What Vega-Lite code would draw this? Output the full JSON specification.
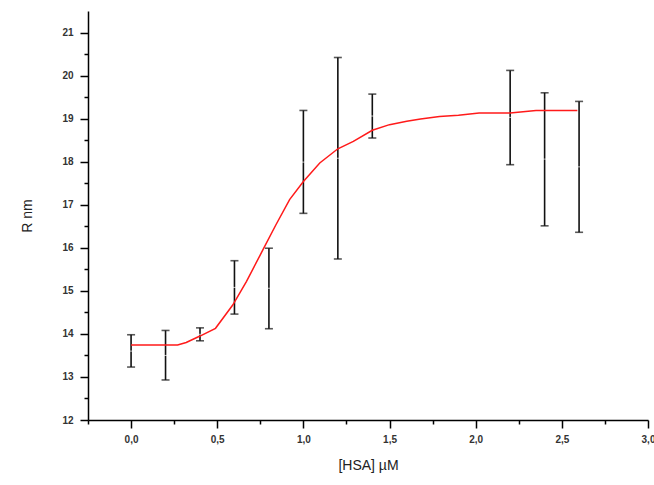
{
  "$schema": "https://vega.github.io/schema/vega-lite/v6.json",
  "autosize": {"type": "none"},
  "padding": {"left": 88, "top": 11, "right": 6, "bottom": 65},
  "width": 560,
  "height": 409,
  "background": "white",
  "config": {
    "view": {"stroke": null},
    "font": "Liberation Sans",
    "axis": {
      "domainColor": "#000",
      "domainWidth": 1.5,
      "tickColor": "#000",
      "tickWidth": 1.5,
      "grid": false,
      "labelFont": "Liberation Sans",
      "labelFontSize": 10,
      "labelFontWeight": "bold",
      "labelColor": "#333",
      "titleFont": "Liberation Sans",
      "titleFontSize": 14,
      "titleFontWeight": "normal",
      "titleColor": "#222"
    }
  },
  "datasets": {
    "measured": [
      {"c": 0.0, "lo": 13.23, "hi": 13.98, "mean": 13.60},
      {"c": 0.2, "lo": 12.93, "hi": 14.08, "mean": 13.50},
      {"c": 0.4, "lo": 13.84, "hi": 14.14, "mean": 13.99},
      {"c": 0.6, "lo": 14.46, "hi": 15.70, "mean": 15.08},
      {"c": 0.8, "lo": 14.12, "hi": 15.99, "mean": 15.06},
      {"c": 1.0, "lo": 16.80, "hi": 19.19, "mean": 17.99},
      {"c": 1.2, "lo": 15.74, "hi": 20.42, "mean": 18.08},
      {"c": 1.4, "lo": 18.55, "hi": 19.57, "mean": 19.06},
      {"c": 2.2, "lo": 17.93, "hi": 20.12, "mean": 19.03},
      {"c": 2.4, "lo": 16.51, "hi": 19.60, "mean": 18.06},
      {"c": 2.6, "lo": 16.36, "hi": 19.40, "mean": 17.88}
    ],
    "fit": [
      {"c": 0.0, "r": 13.74},
      {"c": 0.27, "r": 13.74},
      {"c": 0.32, "r": 13.80},
      {"c": 0.40, "r": 13.95},
      {"c": 0.49, "r": 14.13},
      {"c": 0.59, "r": 14.67},
      {"c": 0.67, "r": 15.22},
      {"c": 0.77, "r": 15.99},
      {"c": 0.84, "r": 16.53},
      {"c": 0.92, "r": 17.12},
      {"c": 1.0, "r": 17.54},
      {"c": 1.095, "r": 17.97},
      {"c": 1.20, "r": 18.30},
      {"c": 1.29, "r": 18.47},
      {"c": 1.40, "r": 18.73},
      {"c": 1.50, "r": 18.86},
      {"c": 1.60, "r": 18.94},
      {"c": 1.68, "r": 18.99},
      {"c": 1.79, "r": 19.05},
      {"c": 1.90, "r": 19.08},
      {"c": 2.02, "r": 19.13},
      {"c": 2.20, "r": 19.13},
      {"c": 2.35, "r": 19.19},
      {"c": 2.59, "r": 19.19}
    ]
  },
  "encoding": {
    "x": {
      "field": "c",
      "type": "quantitative",
      "scale": {"domain": [-0.25, 3.0], "nice": false, "zero": false},
      "axis": {
        "title": "[HSA] µM",
        "values": [-0.25, 0, 0.25, 0.5, 0.75, 1, 1.25, 1.5, 1.75, 2, 2.25, 2.5, 2.75, 3],
        "labelExpr": "(datum.value * 2) % 1 === 0 && datum.value >= 0 ? replace(format(datum.value, '.1f'), '.', ',') : ''",
        "tickSize": {"condition": {"test": "(datum.value * 2) % 1 === 0", "value": 8}, "value": 4},
        "labelPadding": 6,
        "labelFlush": false,
        "labelOverlap": false,
        "titlePadding": 14
      }
    },
    "y": {
      "type": "quantitative",
      "scale": {"domain": [12, 21.5], "nice": false, "zero": false},
      "axis": {
        "title": "R nm",
        "values": [12, 12.5, 13, 13.5, 14, 14.5, 15, 15.5, 16, 16.5, 17, 17.5, 18, 18.5, 19, 19.5, 20, 20.5, 21],
        "labelExpr": "datum.value % 1 === 0 ? format(datum.value, 'd') : ''",
        "tickSize": {"condition": {"test": "datum.value % 1 === 0", "value": 8}, "value": 4},
        "labelPadding": 7,
        "labelFlush": false,
        "labelOverlap": false,
        "titlePadding": 27
      }
    }
  },
  "layer": [
    {
      "data": {"name": "measured"},
      "mark": {"type": "rule", "color": "#111", "strokeWidth": 1.6},
      "encoding": {"y": {"field": "lo", "type": "quantitative"}, "y2": {"field": "hi"}}
    },
    {
      "data": {"name": "measured"},
      "mark": {"type": "tick", "orient": "horizontal", "color": "#111", "size": 8, "thickness": 1.6},
      "encoding": {"y": {"field": "lo", "type": "quantitative"}}
    },
    {
      "data": {"name": "measured"},
      "mark": {"type": "tick", "orient": "horizontal", "color": "#111", "size": 8, "thickness": 1.6},
      "encoding": {"y": {"field": "hi", "type": "quantitative"}}
    },
    {
      "data": {"name": "measured"},
      "mark": {"type": "tick", "orient": "horizontal", "color": "white", "size": 3, "thickness": 1},
      "encoding": {"y": {"field": "mean", "type": "quantitative"}}
    },
    {
      "data": {"name": "fit"},
      "mark": {"type": "line", "color": "#ff1a1a", "strokeWidth": 1.5},
      "encoding": {"y": {"field": "r", "type": "quantitative"}}
    }
  ]
}
